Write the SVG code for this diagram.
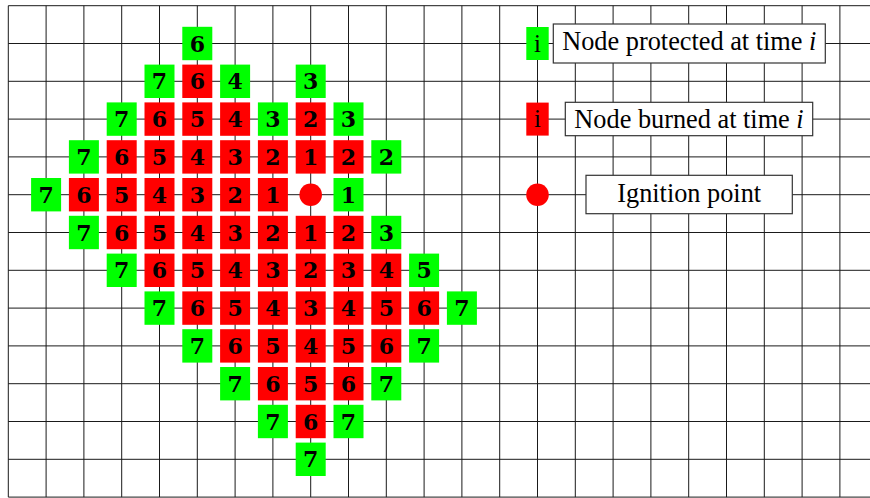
<svg xmlns="http://www.w3.org/2000/svg" width="870" height="498" viewBox="0 0 870 498">
<style>
.grid{stroke:#1a1a1a;stroke-width:1;fill:none}
.g{fill:#00ff00}
.r{fill:#ff0000}
.d{font-family:"DejaVu Serif","Liberation Serif",serif;font-weight:bold;font-size:22px;fill:#000;text-anchor:middle}
.li{font-family:"Liberation Serif",serif;font-size:25px;fill:#000;text-anchor:middle}
.lbox{fill:#fff;stroke:#333;stroke-width:1.2}
.lt{font-family:"Liberation Serif",serif;font-size:26.3px;fill:#000;text-anchor:middle}
.m{font-style:italic}
</style>
<defs>
<rect id="sq" x="-15" y="-16.7" width="30" height="33.4"/>
</defs>
<rect width="870" height="498" fill="#fff"/>
<g id="connectors" class="grid">
<path d="M8.3 5.7V497.1M46.1 5.7V497.1M83.9 5.7V497.1M121.7 5.7V497.1M159.5 5.7V497.1M197.3 5.7V497.1M235.1 5.7V497.1M272.9 5.7V497.1M310.7 5.7V497.1M348.5 5.7V497.1M386.3 5.7V497.1M424.1 5.7V497.1M461.9 5.7V497.1M499.7 5.7V497.1M537.5 5.7V497.1M575.3 5.7V497.1M613.1 5.7V497.1M650.9 5.7V497.1M688.7 5.7V497.1M726.5 5.7V497.1M764.3 5.7V497.1M802.1 5.7V497.1M839.9 5.7V497.1"/>
<path d="M8.3 5.7H870M8.3 43.5H870M8.3 81.3H870M8.3 119.1H870M8.3 156.9H870M8.3 194.7H870M8.3 232.5H870M8.3 270.3H870M8.3 308.1H870M8.3 345.9H870M8.3 383.7H870M8.3 421.5H870M8.3 459.3H870M8.3 497.1H870"/>
</g>
<g id="nodes">
<!-- row 1 -->
<g id="n5_1" transform="translate(197.3,43.5)"><use href="#sq" class="g"/><text class="d" y="8">6</text></g>
<!-- row 2 -->
<g id="n4_2" transform="translate(159.5,81.3)"><use href="#sq" class="g"/><text class="d" y="8">7</text></g>
<g id="n5_2" transform="translate(197.3,81.3)"><use href="#sq" class="r"/><text class="d" y="8">6</text></g>
<g id="n6_2" transform="translate(235.1,81.3)"><use href="#sq" class="g"/><text class="d" y="8">4</text></g>
<g id="n8_2" transform="translate(310.7,81.3)"><use href="#sq" class="g"/><text class="d" y="8">3</text></g>
<!-- row 3 -->
<g id="n3_3" transform="translate(121.7,119.1)"><use href="#sq" class="g"/><text class="d" y="8">7</text></g>
<g id="n4_3" transform="translate(159.5,119.1)"><use href="#sq" class="r"/><text class="d" y="8">6</text></g>
<g id="n5_3" transform="translate(197.3,119.1)"><use href="#sq" class="r"/><text class="d" y="8">5</text></g>
<g id="n6_3" transform="translate(235.1,119.1)"><use href="#sq" class="r"/><text class="d" y="8">4</text></g>
<g id="n7_3" transform="translate(272.9,119.1)"><use href="#sq" class="g"/><text class="d" y="8">3</text></g>
<g id="n8_3" transform="translate(310.7,119.1)"><use href="#sq" class="r"/><text class="d" y="8">2</text></g>
<g id="n9_3" transform="translate(348.5,119.1)"><use href="#sq" class="g"/><text class="d" y="8">3</text></g>
<!-- row 4 -->
<g id="n2_4" transform="translate(83.9,156.9)"><use href="#sq" class="g"/><text class="d" y="8">7</text></g>
<g id="n3_4" transform="translate(121.7,156.9)"><use href="#sq" class="r"/><text class="d" y="8">6</text></g>
<g id="n4_4" transform="translate(159.5,156.9)"><use href="#sq" class="r"/><text class="d" y="8">5</text></g>
<g id="n5_4" transform="translate(197.3,156.9)"><use href="#sq" class="r"/><text class="d" y="8">4</text></g>
<g id="n6_4" transform="translate(235.1,156.9)"><use href="#sq" class="r"/><text class="d" y="8">3</text></g>
<g id="n7_4" transform="translate(272.9,156.9)"><use href="#sq" class="r"/><text class="d" y="8">2</text></g>
<g id="n8_4" transform="translate(310.7,156.9)"><use href="#sq" class="r"/><text class="d" y="8">1</text></g>
<g id="n9_4" transform="translate(348.5,156.9)"><use href="#sq" class="r"/><text class="d" y="8">2</text></g>
<g id="n10_4" transform="translate(386.3,156.9)"><use href="#sq" class="g"/><text class="d" y="8">2</text></g>
<!-- row 5 -->
<g id="n1_5" transform="translate(46.1,194.7)"><use href="#sq" class="g"/><text class="d" y="8">7</text></g>
<g id="n2_5" transform="translate(83.9,194.7)"><use href="#sq" class="r"/><text class="d" y="8">6</text></g>
<g id="n3_5" transform="translate(121.7,194.7)"><use href="#sq" class="r"/><text class="d" y="8">5</text></g>
<g id="n4_5" transform="translate(159.5,194.7)"><use href="#sq" class="r"/><text class="d" y="8">4</text></g>
<g id="n5_5" transform="translate(197.3,194.7)"><use href="#sq" class="r"/><text class="d" y="8">3</text></g>
<g id="n6_5" transform="translate(235.1,194.7)"><use href="#sq" class="r"/><text class="d" y="8">2</text></g>
<g id="n7_5" transform="translate(272.9,194.7)"><use href="#sq" class="r"/><text class="d" y="8">1</text></g>
<g id="ignition" transform="translate(310.7,194.7)"><circle r="11.3" class="r"/></g>
<g id="n9_5" transform="translate(348.5,194.7)"><use href="#sq" class="g"/><text class="d" y="8">1</text></g>
<!-- row 6 -->
<g id="n2_6" transform="translate(83.9,232.5)"><use href="#sq" class="g"/><text class="d" y="8">7</text></g>
<g id="n3_6" transform="translate(121.7,232.5)"><use href="#sq" class="r"/><text class="d" y="8">6</text></g>
<g id="n4_6" transform="translate(159.5,232.5)"><use href="#sq" class="r"/><text class="d" y="8">5</text></g>
<g id="n5_6" transform="translate(197.3,232.5)"><use href="#sq" class="r"/><text class="d" y="8">4</text></g>
<g id="n6_6" transform="translate(235.1,232.5)"><use href="#sq" class="r"/><text class="d" y="8">3</text></g>
<g id="n7_6" transform="translate(272.9,232.5)"><use href="#sq" class="r"/><text class="d" y="8">2</text></g>
<g id="n8_6" transform="translate(310.7,232.5)"><use href="#sq" class="r"/><text class="d" y="8">1</text></g>
<g id="n9_6" transform="translate(348.5,232.5)"><use href="#sq" class="r"/><text class="d" y="8">2</text></g>
<g id="n10_6" transform="translate(386.3,232.5)"><use href="#sq" class="g"/><text class="d" y="8">3</text></g>
<!-- row 7 -->
<g id="n3_7" transform="translate(121.7,270.3)"><use href="#sq" class="g"/><text class="d" y="8">7</text></g>
<g id="n4_7" transform="translate(159.5,270.3)"><use href="#sq" class="r"/><text class="d" y="8">6</text></g>
<g id="n5_7" transform="translate(197.3,270.3)"><use href="#sq" class="r"/><text class="d" y="8">5</text></g>
<g id="n6_7" transform="translate(235.1,270.3)"><use href="#sq" class="r"/><text class="d" y="8">4</text></g>
<g id="n7_7" transform="translate(272.9,270.3)"><use href="#sq" class="r"/><text class="d" y="8">3</text></g>
<g id="n8_7" transform="translate(310.7,270.3)"><use href="#sq" class="r"/><text class="d" y="8">2</text></g>
<g id="n9_7" transform="translate(348.5,270.3)"><use href="#sq" class="r"/><text class="d" y="8">3</text></g>
<g id="n10_7" transform="translate(386.3,270.3)"><use href="#sq" class="r"/><text class="d" y="8">4</text></g>
<g id="n11_7" transform="translate(424.1,270.3)"><use href="#sq" class="g"/><text class="d" y="8">5</text></g>
<!-- row 8 -->
<g id="n4_8" transform="translate(159.5,308.1)"><use href="#sq" class="g"/><text class="d" y="8">7</text></g>
<g id="n5_8" transform="translate(197.3,308.1)"><use href="#sq" class="r"/><text class="d" y="8">6</text></g>
<g id="n6_8" transform="translate(235.1,308.1)"><use href="#sq" class="r"/><text class="d" y="8">5</text></g>
<g id="n7_8" transform="translate(272.9,308.1)"><use href="#sq" class="r"/><text class="d" y="8">4</text></g>
<g id="n8_8" transform="translate(310.7,308.1)"><use href="#sq" class="r"/><text class="d" y="8">3</text></g>
<g id="n9_8" transform="translate(348.5,308.1)"><use href="#sq" class="r"/><text class="d" y="8">4</text></g>
<g id="n10_8" transform="translate(386.3,308.1)"><use href="#sq" class="r"/><text class="d" y="8">5</text></g>
<g id="n11_8" transform="translate(424.1,308.1)"><use href="#sq" class="r"/><text class="d" y="8">6</text></g>
<g id="n12_8" transform="translate(461.9,308.1)"><use href="#sq" class="g"/><text class="d" y="8">7</text></g>
<!-- row 9 -->
<g id="n5_9" transform="translate(197.3,345.9)"><use href="#sq" class="g"/><text class="d" y="8">7</text></g>
<g id="n6_9" transform="translate(235.1,345.9)"><use href="#sq" class="r"/><text class="d" y="8">6</text></g>
<g id="n7_9" transform="translate(272.9,345.9)"><use href="#sq" class="r"/><text class="d" y="8">5</text></g>
<g id="n8_9" transform="translate(310.7,345.9)"><use href="#sq" class="r"/><text class="d" y="8">4</text></g>
<g id="n9_9" transform="translate(348.5,345.9)"><use href="#sq" class="r"/><text class="d" y="8">5</text></g>
<g id="n10_9" transform="translate(386.3,345.9)"><use href="#sq" class="r"/><text class="d" y="8">6</text></g>
<g id="n11_9" transform="translate(424.1,345.9)"><use href="#sq" class="g"/><text class="d" y="8">7</text></g>
<!-- row 10 -->
<g id="n6_10" transform="translate(235.1,383.7)"><use href="#sq" class="g"/><text class="d" y="8">7</text></g>
<g id="n7_10" transform="translate(272.9,383.7)"><use href="#sq" class="r"/><text class="d" y="8">6</text></g>
<g id="n8_10" transform="translate(310.7,383.7)"><use href="#sq" class="r"/><text class="d" y="8">5</text></g>
<g id="n9_10" transform="translate(348.5,383.7)"><use href="#sq" class="r"/><text class="d" y="8">6</text></g>
<g id="n10_10" transform="translate(386.3,383.7)"><use href="#sq" class="g"/><text class="d" y="8">7</text></g>
<!-- row 11 -->
<g id="n7_11" transform="translate(272.9,421.5)"><use href="#sq" class="g"/><text class="d" y="8">7</text></g>
<g id="n8_11" transform="translate(310.7,421.5)"><use href="#sq" class="r"/><text class="d" y="8">6</text></g>
<g id="n9_11" transform="translate(348.5,421.5)"><use href="#sq" class="g"/><text class="d" y="8">7</text></g>
<!-- row 12 -->
<g id="n8_12" transform="translate(310.7,459.3)"><use href="#sq" class="g"/><text class="d" y="8">7</text></g>
</g>
<g id="legend">
<g id="leg-protected">
<rect class="g" x="526.3" y="27" width="22.4" height="33"/>
<text class="li" x="537.5" y="51.5">i</text>
<rect class="lbox" x="553.3" y="24" width="272" height="39"/>
<text class="lt" x="689.3" y="50">Node protected at time <tspan class="m">i</tspan></text>
</g>
<g id="leg-burned">
<rect class="r" x="526.3" y="102.6" width="22.4" height="33"/>
<text class="li" x="537.5" y="127.3">i</text>
<rect class="lbox" x="565.3" y="102.3" width="247.4" height="33.4"/>
<text class="lt" x="689" y="127.5">Node burned at time <tspan class="m">i</tspan></text>
</g>
<g id="leg-ignition">
<circle class="r" cx="537.5" cy="194.7" r="11.3"/>
<rect class="lbox" x="586" y="175.3" width="206.3" height="38.4"/>
<text class="lt" x="689.2" y="201.5">Ignition point</text>
</g>
</g>
</svg>
